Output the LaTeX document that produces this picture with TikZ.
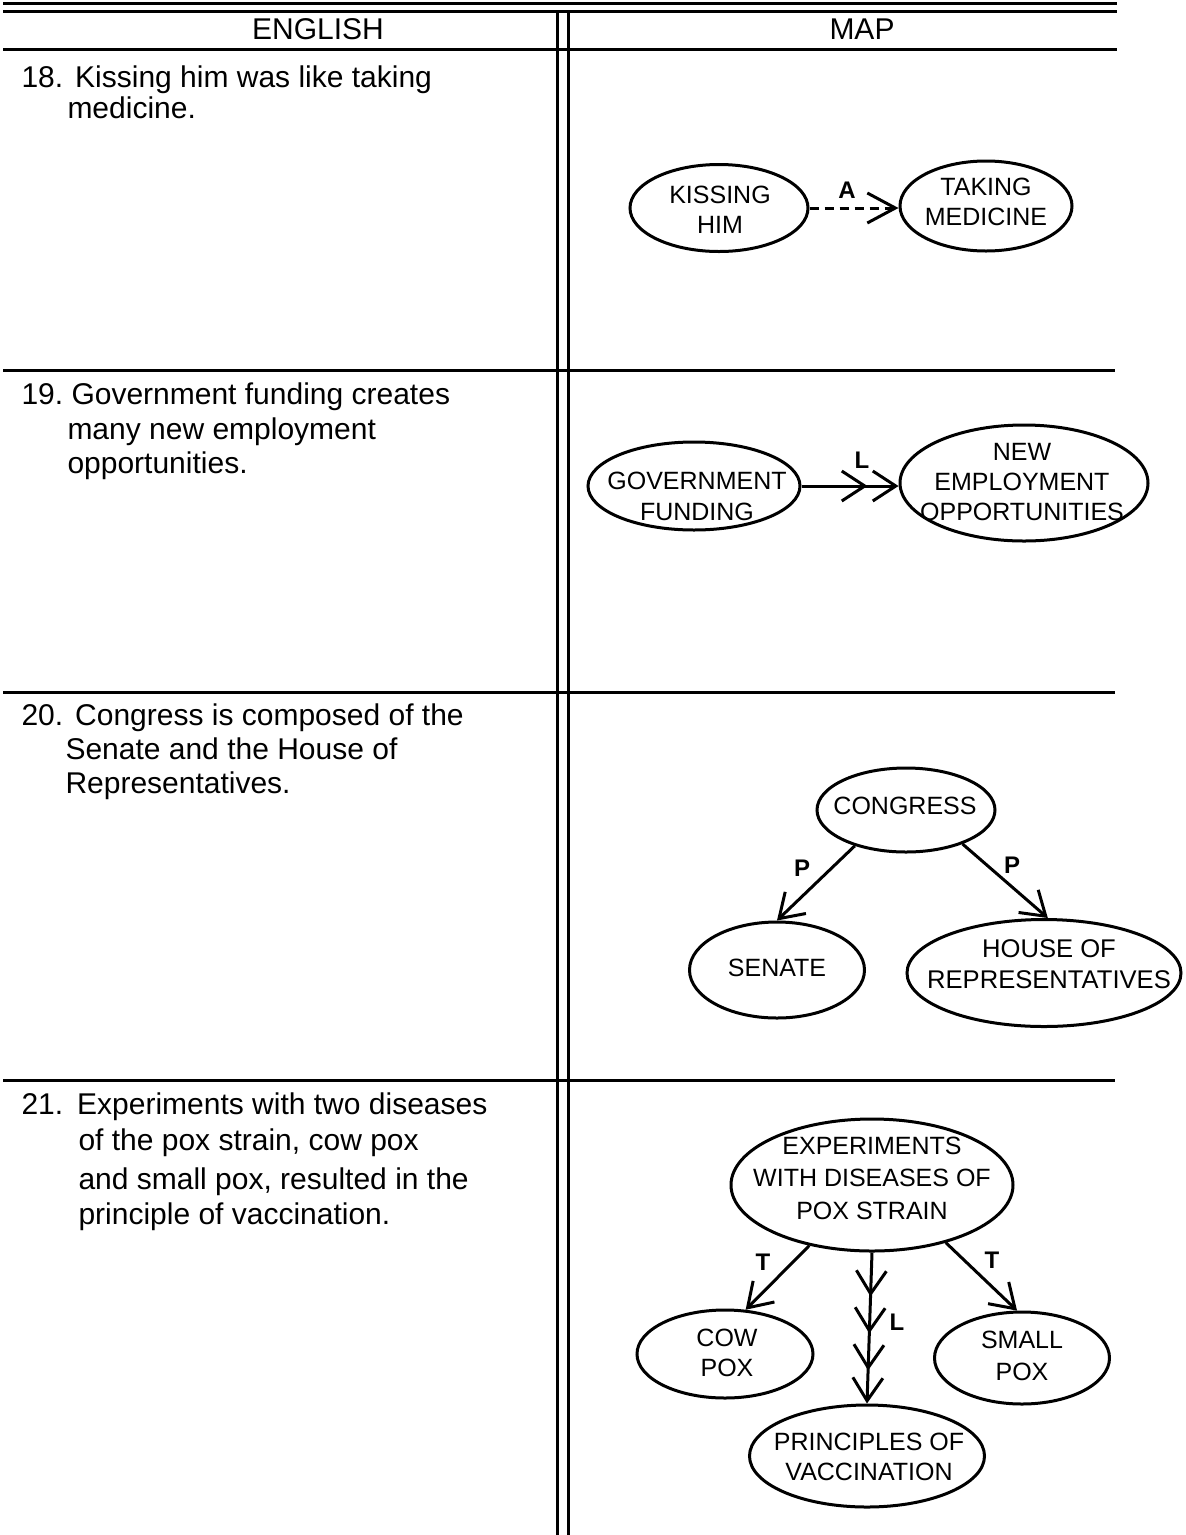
\documentclass[tikz,border=0pt]{standalone}
\usepackage{fontspec}
\setmainfont{Liberation Sans}
\usetikzlibrary{shapes.geometric,arrows.meta,decorations.markings}
\begin{document}
\frenchspacing
\begin{tikzpicture}[x=1pt,y=-1pt,line width=3pt,
  tbl/.style={line width=3pt},
  oval/.style={draw,ellipse,inner sep=0pt},
  ovtext/.style={inner sep=0pt,align=center,font=\fontsize{25}{30}\selectfont},
  lbl/.style={font=\bfseries\fontsize{24}{24}\selectfont,inner sep=0pt},
  txt/.style={anchor=base west,inner sep=0pt,font=\fontsize{30}{34}\selectfont},
  hdr/.style={inner sep=0pt,font=\fontsize{30}{30}\selectfont},
  barbtip/.tip={Straight Barb[length=23pt,width=30pt]},
  barb/.style={-barbtip},
]
\useasboundingbox (0,0) rectangle (1186,1535);
% table rules
\draw[tbl] (3,3) -- (1117,3);
\draw[tbl] (3,11) -- (1117,11);
\draw[tbl] (3,49) -- (1117,49);
\draw[tbl] (557,11) -- (557,1535);
\draw[tbl] (568,11) -- (568,1535);
\draw[tbl] (3,370) -- (1115,370);
\draw[tbl] (3,692) -- (1115,692);
\draw[tbl] (3,1080) -- (1115,1080);
% headers
\node[hdr] (heng) at (318,29) {ENGLISH};
\node[hdr] (hmap) at (862,29) {MAP};
% left column text
\node[txt] (t18a) at (20,87) {18.\hspace{12pt}Kissing him was like taking};
\node[txt] (t18b) at (66,118) {medicine.};
\node[txt] (t19a) at (20,404) {19. Government funding creates};
\node[txt] (t19b) at (66,439) {many new employment};
\node[txt] (t19c) at (66,473) {opportunities.};
\node[txt] (t20a) at (20,725) {20.\hspace{12pt}Congress is composed of the};
\node[txt] (t20b) at (64,759) {Senate and the House of};
\node[txt] (t20c) at (64,793) {Representatives.};
\node[txt] (t21a) at (20,1114) {21.\hspace{14pt}Experiments with two diseases};
\node[txt] (t21b) at (77,1150) {of the pox strain, cow pox};
\node[txt] (t21c) at (77,1189) {and small pox, resulted in the};
\node[txt] (t21d) at (77,1224) {principle of vaccination.};
% 18
\node[oval,minimum width=178pt,minimum height=87pt] (kiss) at (719,208) {};
\node[ovtext] (kisst) at (720,210) {KISSING\\HIM};
\node[oval,minimum width=172pt,minimum height=90pt] (take) at (986,206) {};
\node[ovtext] (taket) at (986,202) {TAKING\\MEDICINE};
\draw[dash pattern=on 9pt off 6pt,-{Straight Barb[length=28pt,width=30pt]}] (kiss.east) -- (kiss.east -| take.west);
\node[lbl] (la) at (847,190) {A};
% 19
\node[oval,minimum width=212pt,minimum height=88pt] (gov) at (694,486) {};
\node[ovtext,font=\fontsize{25}{31}\selectfont] (govt) at (697,496) {GOVERNMENT\\FUNDING};
\node[oval,minimum width=248pt,minimum height=116pt] (new) at (1024,483) {};
\node[ovtext] (newt) at (1022,482) {NEW\\EMPLOYMENT\\OPPORTUNITIES};
\draw[barb,postaction={decorate},decoration={markings,mark=at position 66pt with {\arrow{barbtip}}}] (gov.east) -- (gov.east -| new.west);
\node[lbl] (ll1) at (862,460) {L};
% 20
\node[oval,minimum width=178pt,minimum height=84pt] (cong) at (906,810) {};
\node[ovtext] (congt) at (905,806) {CONGRESS};
\node[oval,minimum width=175pt,minimum height=96pt] (sen) at (777,970) {};
\node[ovtext] (sent) at (777,968) {SENATE};
\node[oval,minimum width=274pt,minimum height=107pt] (house) at (1044,973) {};
\node[ovtext,font=\fontsize{25.6}{31}\selectfont] (houset) at (1049,964) {HOUSE OF\\REPRESENTATIVES};
\draw[barb] (cong.-145) -- (sen.north);
\draw[barb] (cong.-31) -- (house.86);
\node[lbl] (lp1) at (802,868) {P};
\node[lbl] (lp2) at (1012,865) {P};
% 21
\node[oval,minimum width=282pt,minimum height=132pt] (exp) at (872,1185) {};
\node[ovtext,font=\fontsize{25}{32.5}\selectfont] (expt) at (872,1178) {EXPERIMENTS\\WITH DISEASES OF\\POX STRAIN};
\node[oval,minimum width=176pt,minimum height=88pt] (cow) at (725,1354) {};
\node[ovtext] (cowt) at (727,1353) {COW\\POX};
\node[oval,minimum width=175pt,minimum height=92pt] (small) at (1022,1358) {};
\node[ovtext,font=\fontsize{25}{32}\selectfont] (smallt) at (1022,1356) {SMALL\\POX};
\node[oval,minimum width=235pt,minimum height=102pt] (prin) at (867,1456) {};
\node[ovtext] (print) at (869,1457) {PRINCIPLES OF\\VACCINATION};
\draw[barb] (exp.224) -- (cow.65);
\draw[barb] (exp.-38) -- (small.96);
\draw[barb,postaction={decorate},decoration={markings,
  mark=at position 44pt with {\arrow{barbtip}},
  mark=at position 81pt with {\arrow{barbtip}},
  mark=at position 118pt with {\arrow{barbtip}}}] (exp.south) -- (prin.north);
\node[lbl] (lt1) at (763,1262) {T};
\node[lbl] (lt2) at (992,1260) {T};
\node[lbl] (ll2) at (897,1322) {L};
\end{tikzpicture}
\end{document}
